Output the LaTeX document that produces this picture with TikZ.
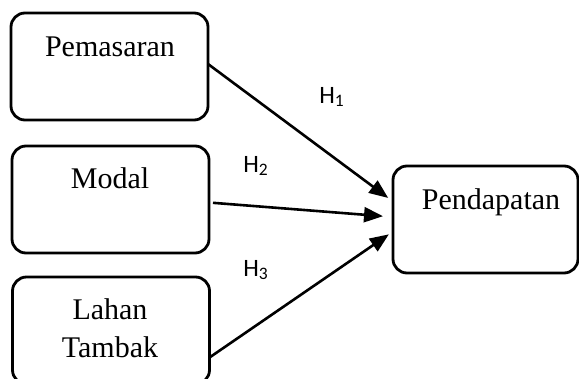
\documentclass[tikz,border=0pt]{standalone}
\usepackage{fontspec}
\setmainfont{Liberation Serif}
\newfontfamily\hfont{Carlito}
\usetikzlibrary{arrows.meta}
\begin{document}
\begin{tikzpicture}[x=1pt, y=-1pt, line width=2.8pt, line join=round,
    caja/.style={draw, rounded corners=14pt, minimum width=197pt, minimum height=107pt, inner sep=0pt, outer sep=0pt},
    texto/.style={font=\fontsize{30}{36}\selectfont, anchor=base, inner sep=0pt},
    hip/.style={font=\hfont\fontsize{25}{28}\selectfont, anchor=base west, inner sep=0pt},
    flecha/.style={-{Triangle[length=19pt,width=15pt]}, line width=2.6pt}]
  \useasboundingbox (0,0) rectangle (579,378);
  % las cajas
  \node[caja] (pem) at (109.5,66.5) {};
  \node[caja] (mod) at (110.5,199.5) {};
  \node[caja] (lah) at (111,330.5) {};
  \node[caja, minimum width=185pt] (pen) at (485.5,219.5) {};
  % los textos
  \node[texto] (tpem) at (110,56) {Pemasaran};
  \node[texto] (tmod) at (110,188) {Modal};
  \node[texto] (tlah) at (110,319) {Lahan};
  \node[texto] (ttam) at (110,357) {Tambak};
  \node[texto] (tpen) at (491,209) {Pendapatan};
  % las flechas
  \draw[flecha, shorten >=6pt] ([yshift=2.5pt]pem.east) -- ([yshift=18pt]pen.west);
  \draw[flecha, shorten <=4pt, shorten >=10pt] ([yshift=-3pt]mod.east) -- ([yshift=2.5pt]pen.west);
  \draw[flecha, shorten >=5pt] ([yshift=-27pt]lah.east) -- ([yshift=-12pt]pen.west);
  % las hipotesis
  \node[hip] (h1) at (318,103) {H\textsubscript{1}};
  \node[hip] (h2) at (242,172) {H\textsubscript{2}};
  \node[hip] (h3) at (242,276) {H\textsubscript{3}};
\end{tikzpicture}
\end{document}
